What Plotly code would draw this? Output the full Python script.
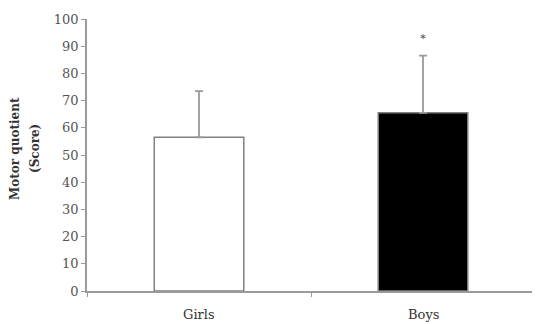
import plotly.graph_objects as go

categories = ["Girls", "Boys"]
means = [56.5, 65.5]
errors = [17.0, 21.0]
bar_colors = ["white", "black"]
significance = ["", "*"]
y_ticks = [0, 10, 20, 30, 40, 50, 60, 70, 80, 90, 100]
y_title_lines = ["Motor quotient", "(Score)"]

FONT = "DejaVu Serif"

fig = go.Figure()
fig.add_trace(go.Bar(
    x=categories, y=means,
    marker=dict(color=bar_colors, line=dict(color="#808080", width=1.5)),
    width=0.4,
    error_y=dict(type="data", array=errors, symmetric=False, arrayminus=[0, 0],
                 color="#9a9a9a", thickness=1.8, width=4, visible=True),
    showlegend=False,
))
fig.add_trace(go.Scatter(
    x=categories, y=[m + e + 6 for m, e in zip(means, errors)],
    mode="text", text=significance,
    textfont=dict(family=FONT, size=11, color="#444"),
    showlegend=False, hoverinfo="skip",
))

fig.update_layout(
    width=540, height=324,
    margin=dict(l=79, r=13, t=10.5, b=41, autoexpand=False),
    plot_bgcolor="white", paper_bgcolor="white",
    bargap=0.6,
    font=dict(family=FONT, color="#333"),
)
fig.update_xaxes(
    showline=True, linecolor="#9a9a9a", linewidth=1.5,
    ticks="outside", tickcolor="#9a9a9a", ticklen=4,
    tickmode="array", tickvals=[-0.5, 0.5, 1.5], ticktext=["", "", ""],
    range=[-0.5, 1.5], showgrid=False, zeroline=False,
)
for c in categories:
    fig.add_annotation(x=c, y=0, yref="y", text=c, showarrow=False,
                       yshift=-23, font=dict(family=FONT, size=13, color="#333"))
fig.update_yaxes(
    range=[0, 100], tickvals=y_ticks,
    showline=True, linecolor="#9a9a9a", linewidth=1.5,
    ticks="outside", tickcolor="#9a9a9a", ticklen=4,
    tickfont=dict(family=FONT, size=13, color="#555"),
    showgrid=False, zeroline=False,
)
for line, shift in zip(y_title_lines, [-72, -52]):
    fig.add_annotation(x=0, xref="paper", y=0.5, yref="paper", xshift=shift, yshift=6,
                       xanchor="center", yanchor="middle",
                       text="<b>" + line + "</b>", textangle=-90,
                       showarrow=False,
                       font=dict(family=FONT, size=12, color="#333"))
fig.write_html("out.html")
